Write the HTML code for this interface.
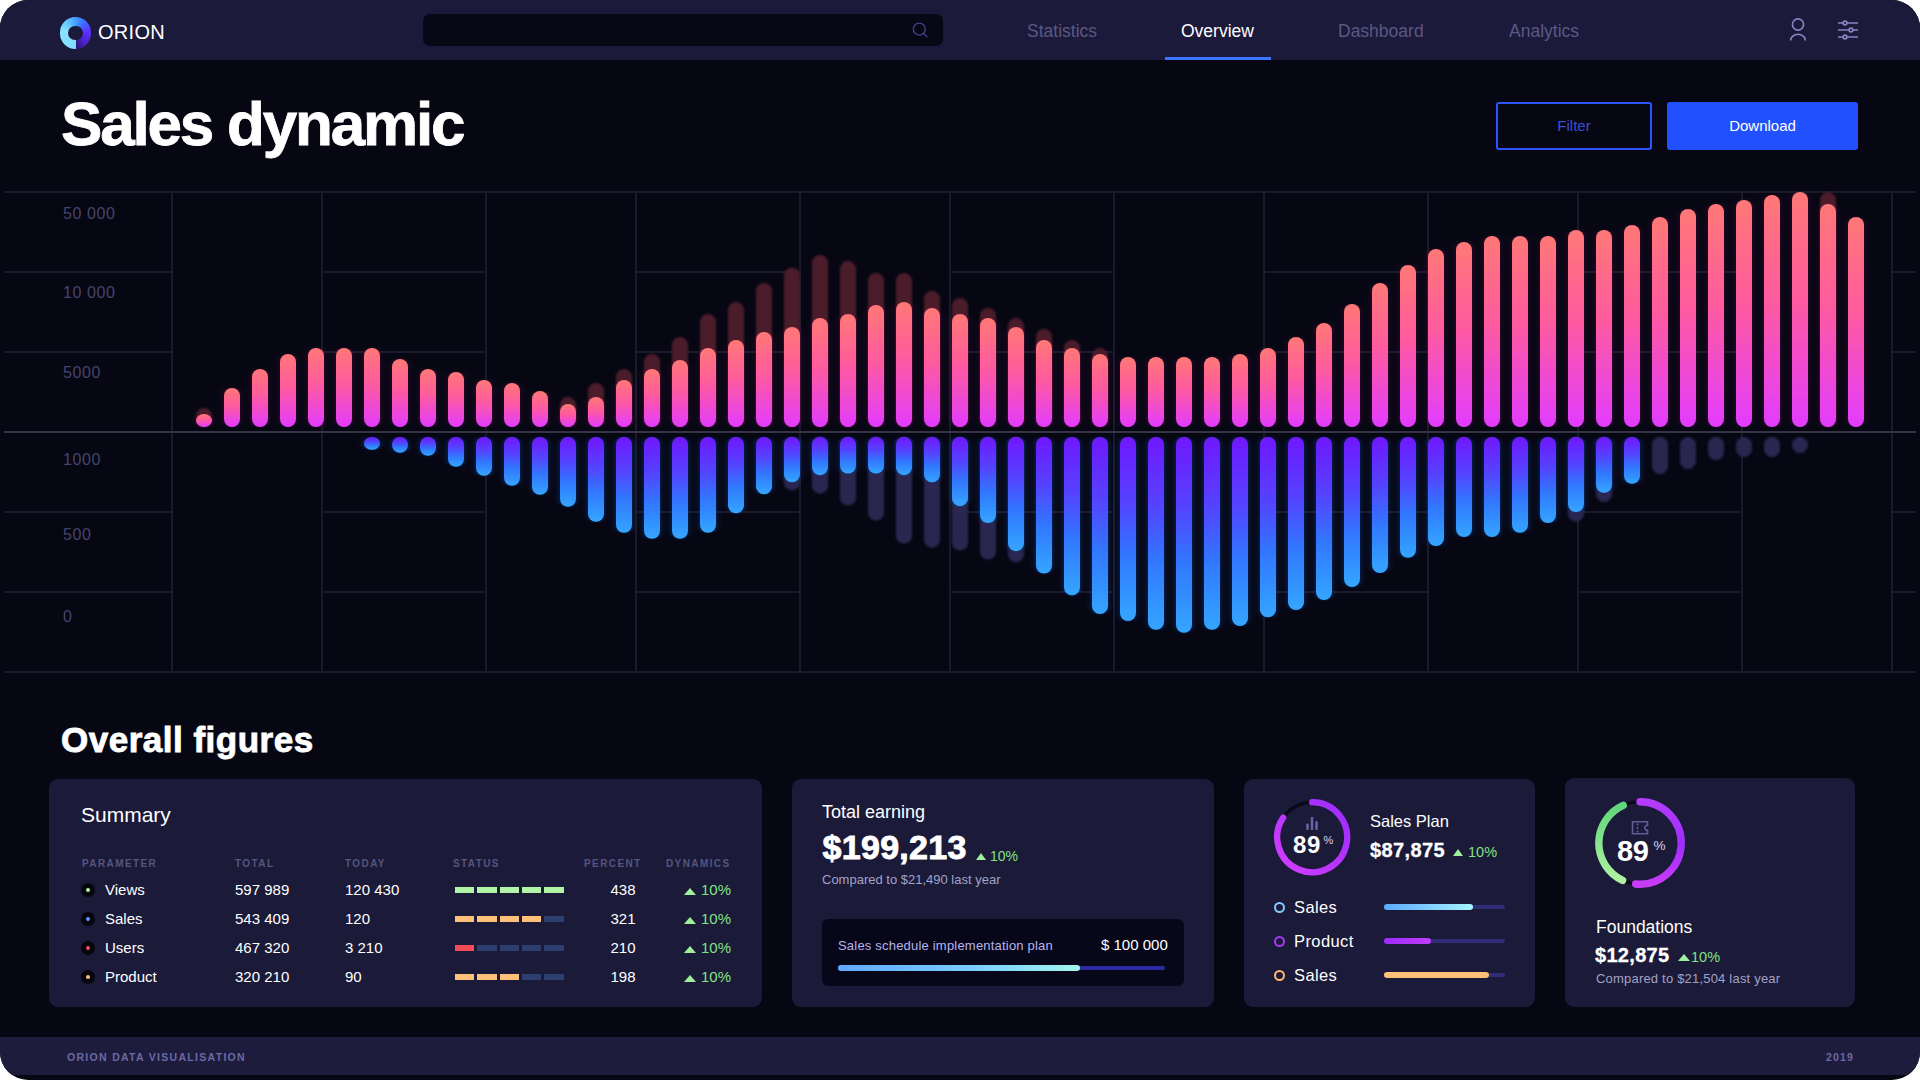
<!DOCTYPE html>
<html><head><meta charset="utf-8"><title>Orion - Sales dynamic</title>
<style>
*{box-sizing:border-box;margin:0;padding:0}
html,body{width:1920px;height:1080px;overflow:hidden;background:#ffffff}
body{font-family:"Liberation Sans",Arial,sans-serif;color:#fff;position:relative}
.frame{position:absolute;left:0;top:0;width:1920px;height:1080px;border-radius:28px;overflow:hidden;background:#070714}
.abs{position:absolute;white-space:nowrap}
.nav{position:absolute;left:0;top:0;width:1920px;height:60px;background:#1c1a3a}
.logo{position:absolute;left:59.6px;top:17px;width:31.6px;height:31.6px;border-radius:50%;
 background:conic-gradient(from 180deg,#80dcff 0deg,#8ae4ff 100deg,#55b6ff 160deg,#3580ff 205deg,#5a34ff 260deg,#4a22c8 320deg,#2a1670 359deg)}
.logo:after{content:"";position:absolute;left:8.6px;top:8.6px;width:14.4px;height:14.4px;border-radius:50%;background:#1c1a3a}
.brand{left:98px;top:21px;font-size:20px;letter-spacing:0.3px;color:#fff}
.search{position:absolute;left:423px;top:14px;width:520px;height:32px;border-radius:7px;background:#080715}
.navi{top:21px;font-size:17.5px;color:#5a5883}
.navi.on{color:#fff}
.uline{position:absolute;left:1165px;top:57px;width:106px;height:3px;background:#3a78ff}
h1{position:absolute;left:61px;top:88px;font-size:62px;font-weight:700;letter-spacing:-2.2px;-webkit-text-stroke:0.8px #fff;color:#fff;white-space:nowrap}
.btn{position:absolute;top:102px;height:48px;border-radius:3px;font-size:15px;display:flex;align-items:center;justify-content:center;padding-bottom:2px}
.filter{left:1496px;width:156px;border:2px solid #2a55ff;color:#3c4ed0;background:transparent}
.dl{left:1667px;width:191px;background:#2150ff;color:#fff}
.chart{position:absolute;left:0;top:180px}
.yl{font-family:"Liberation Sans",Arial,sans-serif;font-size:16px;letter-spacing:0.6px;fill:#45446a}
h2{position:absolute;left:61px;top:719.5px;font-size:35px;letter-spacing:0.5px;-webkit-text-stroke:0.9px #fff;font-weight:700;color:#fff;white-space:nowrap}
.card{position:absolute;top:779px;height:228px;border-radius:9px;background:#1b1a39}
.footer{position:absolute;left:0;top:1037px;width:1920px;height:38px;background:#1e1c3d}
.ft{top:1051px;font-size:10.5px;font-weight:700;letter-spacing:1.3px;color:#6b69a3}
.th{font-size:10px;font-weight:700;letter-spacing:1.4px;color:#56557f;top:858px}
.td{font-size:15px;color:#fff}
.dot{position:absolute;width:14px;height:14px;border-radius:50%;background:#07060f}
.dot i{position:absolute;left:5px;top:5px;width:4px;height:4px;border-radius:50%}
.seg{position:absolute;height:6px;width:19.5px}
.tri{position:absolute;width:0;height:0;border-left:6px solid transparent;border-right:6px solid transparent;border-bottom:7px solid #9ff09a}
.grn{color:#82e283}
.sub{color:#a3a2c6;font-size:13px}
</style></head>
<body>
<div class="frame">
 <div class="nav"></div>
 <div class="logo"></div>
 <div class="abs brand">ORION</div>
 <div class="search"></div>
 <svg class="abs" style="left:911px;top:22px" width="18" height="18" viewBox="0 0 18 18"><circle cx="8.3" cy="7.1" r="6" fill="none" stroke="#433e8c" stroke-width="1.4"/><line x1="12.6" y1="11.4" x2="16" y2="14.8" stroke="#433e8c" stroke-width="1.4" stroke-linecap="round"/></svg>
 <div class="abs navi" style="left:1027px">Statistics</div>
 <div class="abs navi on" style="left:1181px">Overview</div>
 <div class="abs navi" style="left:1338px">Dashboard</div>
 <div class="abs navi" style="left:1509px">Analytics</div>
 <div class="uline"></div>
 <svg class="abs" style="left:1786px;top:16px" width="24" height="26" viewBox="0 0 24 26"><circle cx="12" cy="8.5" r="5.6" fill="none" stroke="#8785c4" stroke-width="1.6"/><path d="M4.6 24.5 A7.4 6.2 0 0 1 19.4 24.5" fill="none" stroke="#8785c4" stroke-width="1.6"/></svg>
 <svg class="abs" style="left:1836px;top:16px" width="24" height="26" viewBox="0 0 24 26"><g stroke="#8785c4" stroke-width="1.6" fill="none"><line x1="2" y1="7" x2="22" y2="7"/><line x1="2" y1="14" x2="22" y2="14"/><line x1="2" y1="21" x2="22" y2="21"/><circle cx="9" cy="7" r="1.9" fill="#1c1a3a"/><circle cx="15" cy="14" r="1.9" fill="#1c1a3a"/><circle cx="9" cy="21" r="1.9" fill="#1c1a3a"/></g></svg>

 <h1>Sales dynamic</h1>
 <div class="btn filter">Filter</div>
 <div class="btn dl">Download</div>

<svg class="chart" width="1920" height="510" viewBox="0 180 1920 510">
<defs>
<linearGradient id="gp" x1="0" y1="0" x2="0" y2="1"><stop offset="0" stop-color="#ff7876"/><stop offset="0.45" stop-color="#ff5b9e"/><stop offset="1" stop-color="#e23cff"/></linearGradient>
<linearGradient id="gb" x1="0" y1="0" x2="0" y2="1"><stop offset="0" stop-color="#7018ff"/><stop offset="0.35" stop-color="#5542ff"/><stop offset="0.65" stop-color="#3078ff"/><stop offset="1" stop-color="#35a6ff"/></linearGradient>
<filter id="gwp" x="-60%" y="-10%" width="220%" height="120%"><feGaussianBlur in="SourceAlpha" stdDeviation="3 1.2"/><feColorMatrix type="matrix" values="0 0 0 0 0.3  0 0 0 0 0  0 0 0 0 0.12  0 0 0 0.35 0"/><feMerge><feMergeNode/><feMergeNode in="SourceGraphic"/></feMerge></filter>
<filter id="gwb" x="-60%" y="-10%" width="220%" height="120%"><feGaussianBlur in="SourceAlpha" stdDeviation="3 1.2"/><feColorMatrix type="matrix" values="0 0 0 0 0  0 0 0 0 0.07  0 0 0 0 0.45  0 0 0 0.55 0"/><feMerge><feMergeNode/><feMergeNode in="SourceGraphic"/></feMerge></filter>
<filter id="bl" x="-50%" y="-20%" width="200%" height="140%"><feGaussianBlur stdDeviation="0.8"/></filter>
</defs>
<rect x="4" y="191" width="1912" height="2" fill="#1b1a2c"/>
<rect x="4" y="671" width="1912" height="2" fill="#1b1a2c"/>
<rect x="171" y="191" width="2" height="482" fill="#1b1a2c"/>
<rect x="321" y="191" width="2" height="482" fill="#1b1a2c"/>
<rect x="485" y="191" width="2" height="482" fill="#1b1a2c"/>
<rect x="635" y="191" width="2" height="482" fill="#1b1a2c"/>
<rect x="799" y="191" width="2" height="482" fill="#1b1a2c"/>
<rect x="949" y="191" width="2" height="482" fill="#1b1a2c"/>
<rect x="1113" y="191" width="2" height="482" fill="#1b1a2c"/>
<rect x="1263" y="191" width="2" height="482" fill="#1b1a2c"/>
<rect x="1427" y="191" width="2" height="482" fill="#1b1a2c"/>
<rect x="1577" y="191" width="2" height="482" fill="#1b1a2c"/>
<rect x="1741" y="191" width="2" height="482" fill="#1b1a2c"/>
<rect x="1891" y="191" width="2" height="482" fill="#1b1a2c"/>
<rect x="4" y="271" width="168" height="2" fill="#1b1a2c"/>
<rect x="4" y="351" width="168" height="2" fill="#1b1a2c"/>
<rect x="4" y="511" width="168" height="2" fill="#1b1a2c"/>
<rect x="4" y="591" width="168" height="2" fill="#1b1a2c"/>
<rect x="322" y="271" width="164" height="2" fill="#1b1a2c"/>
<rect x="322" y="351" width="164" height="2" fill="#1b1a2c"/>
<rect x="322" y="511" width="164" height="2" fill="#1b1a2c"/>
<rect x="322" y="591" width="164" height="2" fill="#1b1a2c"/>
<rect x="636" y="271" width="164" height="2" fill="#1b1a2c"/>
<rect x="636" y="351" width="164" height="2" fill="#1b1a2c"/>
<rect x="636" y="511" width="164" height="2" fill="#1b1a2c"/>
<rect x="636" y="591" width="164" height="2" fill="#1b1a2c"/>
<rect x="950" y="271" width="164" height="2" fill="#1b1a2c"/>
<rect x="950" y="351" width="164" height="2" fill="#1b1a2c"/>
<rect x="950" y="511" width="164" height="2" fill="#1b1a2c"/>
<rect x="950" y="591" width="164" height="2" fill="#1b1a2c"/>
<rect x="1264" y="271" width="164" height="2" fill="#1b1a2c"/>
<rect x="1264" y="351" width="164" height="2" fill="#1b1a2c"/>
<rect x="1264" y="511" width="164" height="2" fill="#1b1a2c"/>
<rect x="1264" y="591" width="164" height="2" fill="#1b1a2c"/>
<rect x="1578" y="271" width="164" height="2" fill="#1b1a2c"/>
<rect x="1578" y="351" width="164" height="2" fill="#1b1a2c"/>
<rect x="1578" y="511" width="164" height="2" fill="#1b1a2c"/>
<rect x="1578" y="591" width="164" height="2" fill="#1b1a2c"/>
<rect x="1892" y="271" width="24" height="2" fill="#1b1a2c"/>
<rect x="1892" y="351" width="24" height="2" fill="#1b1a2c"/>
<rect x="1892" y="511" width="24" height="2" fill="#1b1a2c"/>
<rect x="1892" y="591" width="24" height="2" fill="#1b1a2c"/>
<rect x="4" y="431" width="1912" height="2" fill="#353445"/>
<text x="63" y="219" class="yl">50 000</text>
<text x="63" y="298" class="yl">10 000</text>
<text x="63" y="377.5" class="yl">5000</text>
<text x="63" y="464.5" class="yl">1000</text>
<text x="63" y="539.5" class="yl">500</text>
<text x="63" y="622" class="yl">0</text>
<rect x="196.0" y="408" width="16" height="19" rx="8" fill="#4b1c2c" filter="url(#bl)"/>
<rect x="560.0" y="397" width="16" height="30" rx="8" fill="#4b1c2c" filter="url(#bl)"/>
<rect x="588.0" y="383" width="16" height="44" rx="8" fill="#4b1c2c" filter="url(#bl)"/>
<rect x="616.0" y="369" width="16" height="58" rx="8" fill="#4b1c2c" filter="url(#bl)"/>
<rect x="644.0" y="354" width="16" height="73" rx="8" fill="#4b1c2c" filter="url(#bl)"/>
<rect x="672.0" y="337" width="16" height="90" rx="8" fill="#4b1c2c" filter="url(#bl)"/>
<rect x="700.0" y="314" width="16" height="113" rx="8" fill="#4b1c2c" filter="url(#bl)"/>
<rect x="728.0" y="302" width="16" height="125" rx="8" fill="#4b1c2c" filter="url(#bl)"/>
<rect x="756.0" y="283" width="16" height="144" rx="8" fill="#4b1c2c" filter="url(#bl)"/>
<rect x="784.0" y="267.5" width="16" height="159.5" rx="8" fill="#4b1c2c" filter="url(#bl)"/>
<rect x="812.0" y="255" width="16" height="172" rx="8" fill="#4b1c2c" filter="url(#bl)"/>
<rect x="840.0" y="261" width="16" height="166" rx="8" fill="#4b1c2c" filter="url(#bl)"/>
<rect x="868.0" y="273" width="16" height="154" rx="8" fill="#4b1c2c" filter="url(#bl)"/>
<rect x="896.0" y="273" width="16" height="154" rx="8" fill="#4b1c2c" filter="url(#bl)"/>
<rect x="924.0" y="291" width="16" height="136" rx="8" fill="#4b1c2c" filter="url(#bl)"/>
<rect x="952.0" y="298" width="16" height="129" rx="8" fill="#4b1c2c" filter="url(#bl)"/>
<rect x="980.0" y="308" width="16" height="119" rx="8" fill="#4b1c2c" filter="url(#bl)"/>
<rect x="1008.0" y="318" width="16" height="109" rx="8" fill="#4b1c2c" filter="url(#bl)"/>
<rect x="1036.0" y="329" width="16" height="98" rx="8" fill="#4b1c2c" filter="url(#bl)"/>
<rect x="1064.0" y="340" width="16" height="87" rx="8" fill="#4b1c2c" filter="url(#bl)"/>
<rect x="1092.0" y="348" width="16" height="79" rx="8" fill="#4b1c2c" filter="url(#bl)"/>
<rect x="1820.0" y="192" width="16" height="235" rx="8" fill="#4b1c2c" filter="url(#bl)"/>
<rect x="784.0" y="437" width="16" height="53.39999999999998" rx="8" fill="#2c2550" filter="url(#bl)"/>
<rect x="812.0" y="437" width="16" height="56.5" rx="8" fill="#2c2550" filter="url(#bl)"/>
<rect x="840.0" y="437" width="16" height="68.39999999999998" rx="8" fill="#2c2550" filter="url(#bl)"/>
<rect x="868.0" y="437" width="16" height="83.60000000000002" rx="8" fill="#2c2550" filter="url(#bl)"/>
<rect x="896.0" y="437" width="16" height="106.5" rx="8" fill="#2c2550" filter="url(#bl)"/>
<rect x="924.0" y="437" width="16" height="110.70000000000005" rx="8" fill="#2c2550" filter="url(#bl)"/>
<rect x="952.0" y="437" width="16" height="113.39999999999998" rx="8" fill="#2c2550" filter="url(#bl)"/>
<rect x="980.0" y="437" width="16" height="122.60000000000002" rx="8" fill="#2c2550" filter="url(#bl)"/>
<rect x="1008.0" y="437" width="16" height="125.29999999999995" rx="8" fill="#2c2550" filter="url(#bl)"/>
<rect x="1568.0" y="437" width="16" height="84.70000000000005" rx="8" fill="#2c2550" filter="url(#bl)"/>
<rect x="1596.0" y="437" width="16" height="65" rx="8" fill="#2c2550" filter="url(#bl)"/>
<rect x="1652.0" y="437" width="16" height="37" rx="8" fill="#2c2550" filter="url(#bl)"/>
<rect x="1680.0" y="437" width="16" height="32" rx="8" fill="#2c2550" filter="url(#bl)"/>
<rect x="1708.0" y="437" width="16" height="23" rx="8" fill="#2c2550" filter="url(#bl)"/>
<rect x="1736.0" y="437" width="16" height="20" rx="8" fill="#2c2550" filter="url(#bl)"/>
<rect x="1764.0" y="437" width="16" height="20" rx="8" fill="#2c2550" filter="url(#bl)"/>
<rect x="1792.0" y="437" width="16" height="16" rx="8" fill="#2c2550" filter="url(#bl)"/>
<g filter="url(#gwp)">
<rect x="196.0" y="414" width="16" height="13" rx="8" ry="6.5" fill="url(#gp)"/>
<rect x="224.0" y="388" width="16" height="39" rx="8" ry="8" fill="url(#gp)"/>
<rect x="252.0" y="369" width="16" height="58" rx="8" ry="8" fill="url(#gp)"/>
<rect x="280.0" y="354" width="16" height="73" rx="8" ry="8" fill="url(#gp)"/>
<rect x="308.0" y="348" width="16" height="79" rx="8" ry="8" fill="url(#gp)"/>
<rect x="336.0" y="348" width="16" height="79" rx="8" ry="8" fill="url(#gp)"/>
<rect x="364.0" y="348" width="16" height="79" rx="8" ry="8" fill="url(#gp)"/>
<rect x="392.0" y="359" width="16" height="68" rx="8" ry="8" fill="url(#gp)"/>
<rect x="420.0" y="369" width="16" height="58" rx="8" ry="8" fill="url(#gp)"/>
<rect x="448.0" y="372" width="16" height="55" rx="8" ry="8" fill="url(#gp)"/>
<rect x="476.0" y="380" width="16" height="47" rx="8" ry="8" fill="url(#gp)"/>
<rect x="504.0" y="383" width="16" height="44" rx="8" ry="8" fill="url(#gp)"/>
<rect x="532.0" y="391" width="16" height="36" rx="8" ry="8" fill="url(#gp)"/>
<rect x="560.0" y="404" width="16" height="23" rx="8" ry="8" fill="url(#gp)"/>
<rect x="588.0" y="397" width="16" height="30" rx="8" ry="8" fill="url(#gp)"/>
<rect x="616.0" y="380" width="16" height="47" rx="8" ry="8" fill="url(#gp)"/>
<rect x="644.0" y="369" width="16" height="58" rx="8" ry="8" fill="url(#gp)"/>
<rect x="672.0" y="360" width="16" height="67" rx="8" ry="8" fill="url(#gp)"/>
<rect x="700.0" y="348" width="16" height="79" rx="8" ry="8" fill="url(#gp)"/>
<rect x="728.0" y="340" width="16" height="87" rx="8" ry="8" fill="url(#gp)"/>
<rect x="756.0" y="332" width="16" height="95" rx="8" ry="8" fill="url(#gp)"/>
<rect x="784.0" y="327" width="16" height="100" rx="8" ry="8" fill="url(#gp)"/>
<rect x="812.0" y="318" width="16" height="109" rx="8" ry="8" fill="url(#gp)"/>
<rect x="840.0" y="314" width="16" height="113" rx="8" ry="8" fill="url(#gp)"/>
<rect x="868.0" y="305" width="16" height="122" rx="8" ry="8" fill="url(#gp)"/>
<rect x="896.0" y="302" width="16" height="125" rx="8" ry="8" fill="url(#gp)"/>
<rect x="924.0" y="308" width="16" height="119" rx="8" ry="8" fill="url(#gp)"/>
<rect x="952.0" y="314" width="16" height="113" rx="8" ry="8" fill="url(#gp)"/>
<rect x="980.0" y="318" width="16" height="109" rx="8" ry="8" fill="url(#gp)"/>
<rect x="1008.0" y="327" width="16" height="100" rx="8" ry="8" fill="url(#gp)"/>
<rect x="1036.0" y="340" width="16" height="87" rx="8" ry="8" fill="url(#gp)"/>
<rect x="1064.0" y="348" width="16" height="79" rx="8" ry="8" fill="url(#gp)"/>
<rect x="1092.0" y="354" width="16" height="73" rx="8" ry="8" fill="url(#gp)"/>
<rect x="1120.0" y="357" width="16" height="70" rx="8" ry="8" fill="url(#gp)"/>
<rect x="1148.0" y="357" width="16" height="70" rx="8" ry="8" fill="url(#gp)"/>
<rect x="1176.0" y="357" width="16" height="70" rx="8" ry="8" fill="url(#gp)"/>
<rect x="1204.0" y="357" width="16" height="70" rx="8" ry="8" fill="url(#gp)"/>
<rect x="1232.0" y="354" width="16" height="73" rx="8" ry="8" fill="url(#gp)"/>
<rect x="1260.0" y="348" width="16" height="79" rx="8" ry="8" fill="url(#gp)"/>
<rect x="1288.0" y="337" width="16" height="90" rx="8" ry="8" fill="url(#gp)"/>
<rect x="1316.0" y="323" width="16" height="104" rx="8" ry="8" fill="url(#gp)"/>
<rect x="1344.0" y="304" width="16" height="123" rx="8" ry="8" fill="url(#gp)"/>
<rect x="1372.0" y="283" width="16" height="144" rx="8" ry="8" fill="url(#gp)"/>
<rect x="1400.0" y="265" width="16" height="162" rx="8" ry="8" fill="url(#gp)"/>
<rect x="1428.0" y="249" width="16" height="178" rx="8" ry="8" fill="url(#gp)"/>
<rect x="1456.0" y="242" width="16" height="185" rx="8" ry="8" fill="url(#gp)"/>
<rect x="1484.0" y="236" width="16" height="191" rx="8" ry="8" fill="url(#gp)"/>
<rect x="1512.0" y="236" width="16" height="191" rx="8" ry="8" fill="url(#gp)"/>
<rect x="1540.0" y="236" width="16" height="191" rx="8" ry="8" fill="url(#gp)"/>
<rect x="1568.0" y="230" width="16" height="197" rx="8" ry="8" fill="url(#gp)"/>
<rect x="1596.0" y="230" width="16" height="197" rx="8" ry="8" fill="url(#gp)"/>
<rect x="1624.0" y="225" width="16" height="202" rx="8" ry="8" fill="url(#gp)"/>
<rect x="1652.0" y="217" width="16" height="210" rx="8" ry="8" fill="url(#gp)"/>
<rect x="1680.0" y="209" width="16" height="218" rx="8" ry="8" fill="url(#gp)"/>
<rect x="1708.0" y="204" width="16" height="223" rx="8" ry="8" fill="url(#gp)"/>
<rect x="1736.0" y="200" width="16" height="227" rx="8" ry="8" fill="url(#gp)"/>
<rect x="1764.0" y="195" width="16" height="232" rx="8" ry="8" fill="url(#gp)"/>
<rect x="1792.0" y="192" width="16" height="235" rx="8" ry="8" fill="url(#gp)"/>
<rect x="1820.0" y="204" width="16" height="223" rx="8" ry="8" fill="url(#gp)"/>
<rect x="1848.0" y="217" width="16" height="210" rx="8" ry="8" fill="url(#gp)"/>
</g>
<g filter="url(#gwb)">
<rect x="364.0" y="437" width="16" height="12.800000000000011" rx="8" ry="6.400000000000006" fill="url(#gb)"/>
<rect x="392.0" y="437" width="16" height="15.800000000000011" rx="8" ry="7.900000000000006" fill="url(#gb)"/>
<rect x="420.0" y="437" width="16" height="18.80000000000001" rx="8" ry="8" fill="url(#gb)"/>
<rect x="448.0" y="437" width="16" height="29.80000000000001" rx="8" ry="8" fill="url(#gb)"/>
<rect x="476.0" y="437" width="16" height="38.80000000000001" rx="8" ry="8" fill="url(#gb)"/>
<rect x="504.0" y="437" width="16" height="48.80000000000001" rx="8" ry="8" fill="url(#gb)"/>
<rect x="532.0" y="437" width="16" height="57.80000000000001" rx="8" ry="8" fill="url(#gb)"/>
<rect x="560.0" y="437" width="16" height="69.80000000000001" rx="8" ry="8" fill="url(#gb)"/>
<rect x="588.0" y="437" width="16" height="84.79999999999995" rx="8" ry="8" fill="url(#gb)"/>
<rect x="616.0" y="437" width="16" height="95.79999999999995" rx="8" ry="8" fill="url(#gb)"/>
<rect x="644.0" y="437" width="16" height="101.79999999999995" rx="8" ry="8" fill="url(#gb)"/>
<rect x="672.0" y="437" width="16" height="101.79999999999995" rx="8" ry="8" fill="url(#gb)"/>
<rect x="700.0" y="437" width="16" height="95.79999999999995" rx="8" ry="8" fill="url(#gb)"/>
<rect x="728.0" y="437" width="16" height="76.29999999999995" rx="8" ry="8" fill="url(#gb)"/>
<rect x="756.0" y="437" width="16" height="57.30000000000001" rx="8" ry="8" fill="url(#gb)"/>
<rect x="784.0" y="437" width="16" height="45.30000000000001" rx="8" ry="8" fill="url(#gb)"/>
<rect x="812.0" y="437" width="16" height="38.19999999999999" rx="8" ry="8" fill="url(#gb)"/>
<rect x="840.0" y="437" width="16" height="36.5" rx="8" ry="8" fill="url(#gb)"/>
<rect x="868.0" y="437" width="16" height="36.5" rx="8" ry="8" fill="url(#gb)"/>
<rect x="896.0" y="437" width="16" height="38.19999999999999" rx="8" ry="8" fill="url(#gb)"/>
<rect x="924.0" y="437" width="16" height="45.30000000000001" rx="8" ry="8" fill="url(#gb)"/>
<rect x="952.0" y="437" width="16" height="69.19999999999999" rx="8" ry="8" fill="url(#gb)"/>
<rect x="980.0" y="437" width="16" height="86.09999999999991" rx="8" ry="8" fill="url(#gb)"/>
<rect x="1008.0" y="437" width="16" height="114.19999999999993" rx="8" ry="8" fill="url(#gb)"/>
<rect x="1036.0" y="437" width="16" height="136.5" rx="8" ry="8" fill="url(#gb)"/>
<rect x="1064.0" y="437" width="16" height="158.39999999999998" rx="8" ry="8" fill="url(#gb)"/>
<rect x="1092.0" y="437" width="16" height="177.0999999999999" rx="8" ry="8" fill="url(#gb)"/>
<rect x="1120.0" y="437" width="16" height="184.0" rx="8" ry="8" fill="url(#gb)"/>
<rect x="1148.0" y="437" width="16" height="192.79999999999995" rx="8" ry="8" fill="url(#gb)"/>
<rect x="1176.0" y="437" width="16" height="195.79999999999995" rx="8" ry="8" fill="url(#gb)"/>
<rect x="1204.0" y="437" width="16" height="192.79999999999995" rx="8" ry="8" fill="url(#gb)"/>
<rect x="1232.0" y="437" width="16" height="189.0" rx="8" ry="8" fill="url(#gb)"/>
<rect x="1260.0" y="437" width="16" height="180.29999999999995" rx="8" ry="8" fill="url(#gb)"/>
<rect x="1288.0" y="437" width="16" height="173.0" rx="8" ry="8" fill="url(#gb)"/>
<rect x="1316.0" y="437" width="16" height="163.0" rx="8" ry="8" fill="url(#gb)"/>
<rect x="1344.0" y="437" width="16" height="150.04999999999995" rx="8" ry="8" fill="url(#gb)"/>
<rect x="1372.0" y="437" width="16" height="136.0999999999999" rx="8" ry="8" fill="url(#gb)"/>
<rect x="1400.0" y="437" width="16" height="120.79999999999995" rx="8" ry="8" fill="url(#gb)"/>
<rect x="1428.0" y="437" width="16" height="109.0" rx="8" ry="8" fill="url(#gb)"/>
<rect x="1456.0" y="437" width="16" height="100.04999999999995" rx="8" ry="8" fill="url(#gb)"/>
<rect x="1484.0" y="437" width="16" height="100.04999999999995" rx="8" ry="8" fill="url(#gb)"/>
<rect x="1512.0" y="437" width="16" height="95.79999999999995" rx="8" ry="8" fill="url(#gb)"/>
<rect x="1540.0" y="437" width="16" height="86.09999999999991" rx="8" ry="8" fill="url(#gb)"/>
<rect x="1568.0" y="437" width="16" height="75.04999999999995" rx="8" ry="8" fill="url(#gb)"/>
<rect x="1596.0" y="437" width="16" height="55.80000000000001" rx="8" ry="8" fill="url(#gb)"/>
<rect x="1624.0" y="437" width="16" height="46.80000000000001" rx="8" ry="8" fill="url(#gb)"/>
</g>
</svg>

 <h2>Overall figures</h2>

 <!-- Summary card -->
 <div class="card" style="left:49px;width:713px"></div>
 <div class="abs" style="left:81px;top:803px;font-size:21px;color:#fff">Summary</div>
 <div class="abs th" style="left:82px">PARAMETER</div>
 <div class="abs th" style="left:235px">TOTAL</div>
 <div class="abs th" style="left:345px">TODAY</div>
 <div class="abs th" style="left:453px">STATUS</div>
 <div class="abs th" style="left:584px">PERCENT</div>
 <div class="abs th" style="left:666px">DYNAMICS</div>
 <div class="dot" style="left:81px;top:883px"><i style="background:#a6f59c"></i></div>
 <div class="abs td" style="left:105px;top:881px">Views</div>
 <div class="abs td" style="left:235px;top:881px">597 989</div>
 <div class="abs td" style="left:345px;top:881px">120 430</div>
 <div class="seg" style="left:454.7px;top:887px;background:#b2f5a6"></div>
 <div class="seg" style="left:477px;top:887px;background:#b2f5a6"></div>
 <div class="seg" style="left:499.5px;top:887px;background:#b2f5a6"></div>
 <div class="seg" style="left:521.8px;top:887px;background:#b2f5a6"></div>
 <div class="seg" style="left:544px;top:887px;background:#b2f5a6"></div>
 <div class="abs td" style="right:1284.5px;top:881px">438</div>
 <div class="tri" style="left:684px;top:888px"></div>
 <div class="abs td grn" style="left:701px;top:881px">10%</div>
 <div class="dot" style="left:81px;top:912px"><i style="background:#5b9cff"></i></div>
 <div class="abs td" style="left:105px;top:910px">Sales</div>
 <div class="abs td" style="left:235px;top:910px">543 409</div>
 <div class="abs td" style="left:345px;top:910px">120</div>
 <div class="seg" style="left:454.7px;top:916px;background:#ffc177"></div>
 <div class="seg" style="left:477px;top:916px;background:#ffc177"></div>
 <div class="seg" style="left:499.5px;top:916px;background:#ffc177"></div>
 <div class="seg" style="left:521.8px;top:916px;background:#ffc177"></div>
 <div class="seg" style="left:544px;top:916px;background:#2c3f6f"></div>
 <div class="abs td" style="right:1284.5px;top:910px">321</div>
 <div class="tri" style="left:684px;top:917px"></div>
 <div class="abs td grn" style="left:701px;top:910px">10%</div>
 <div class="dot" style="left:81px;top:941px"><i style="background:#f0505c"></i></div>
 <div class="abs td" style="left:105px;top:939px">Users</div>
 <div class="abs td" style="left:235px;top:939px">467 320</div>
 <div class="abs td" style="left:345px;top:939px">3 210</div>
 <div class="seg" style="left:454.7px;top:945px;background:#f04d58"></div>
 <div class="seg" style="left:477px;top:945px;background:#2c3f6f"></div>
 <div class="seg" style="left:499.5px;top:945px;background:#2c3f6f"></div>
 <div class="seg" style="left:521.8px;top:945px;background:#2c3f6f"></div>
 <div class="seg" style="left:544px;top:945px;background:#2c3f6f"></div>
 <div class="abs td" style="right:1284.5px;top:939px">210</div>
 <div class="tri" style="left:684px;top:946px"></div>
 <div class="abs td grn" style="left:701px;top:939px">10%</div>
 <div class="dot" style="left:81px;top:970px"><i style="background:#ffc27a"></i></div>
 <div class="abs td" style="left:105px;top:968px">Product</div>
 <div class="abs td" style="left:235px;top:968px">320 210</div>
 <div class="abs td" style="left:345px;top:968px">90</div>
 <div class="seg" style="left:454.7px;top:974px;background:#ffc177"></div>
 <div class="seg" style="left:477px;top:974px;background:#ffc177"></div>
 <div class="seg" style="left:499.5px;top:974px;background:#ffc177"></div>
 <div class="seg" style="left:521.8px;top:974px;background:#2c3f6f"></div>
 <div class="seg" style="left:544px;top:974px;background:#2c3f6f"></div>
 <div class="abs td" style="right:1284.5px;top:968px">198</div>
 <div class="tri" style="left:684px;top:975px"></div>
 <div class="abs td grn" style="left:701px;top:968px">10%</div>

 <!-- Total earning -->
 <div class="card" style="left:792px;width:422px"></div>
 <div class="abs" style="left:822px;top:802px;font-size:18px">Total earning</div>
 <div class="abs" style="left:822.5px;top:828px;font-size:34px;font-weight:700;letter-spacing:0.3px;-webkit-text-stroke:0.9px #fff">$199,213</div>
 <div class="tri" style="left:976.2px;top:853.4px;border-left-width:5.8px;border-right-width:5.8px;border-bottom-width:7.8px"></div>
 <div class="abs grn" style="left:990px;top:848px;font-size:14px">10%</div>
 <div class="abs sub" style="left:822px;top:872px">Compared to $21,490 last year</div>
 <div class="abs" style="left:822px;top:919px;width:362px;height:67px;border-radius:6px;background:#08071a"></div>
 <div class="abs" style="left:838px;top:938px;font-size:13px;letter-spacing:0.2px;color:#b6b4f0">Sales schedule implementation plan</div>
 <div class="abs" style="left:1101px;top:936px;font-size:15px;color:#fff">$ 100 000</div>
 <div class="abs" style="left:838px;top:966px;width:327px;height:4px;border-radius:2px;background:#2b2aa0"></div>
 <div class="abs" style="left:838px;top:965px;width:242px;height:6px;border-radius:3px;background:linear-gradient(90deg,#62a8ff,#78ccff 55%,#a2f6ec)"></div>

 <!-- Sales plan -->
 <div class="card" style="left:1244px;width:291px"></div>
 <svg class="abs" style="left:1272px;top:797px" width="80" height="80" viewBox="1272 797 80 80">
<defs><linearGradient id="rp" x1="1" y1="0" x2="0" y2="1"><stop offset="0" stop-color="#9b2cff"/><stop offset="1" stop-color="#d23eff"/></linearGradient></defs>
<circle cx="1312.2" cy="837.2" r="35" fill="none" stroke="#0a0918" stroke-width="3.5"/>
<path d="M1312.20 802.20 A35 35 0 1 1 1283.18 817.63" fill="none" stroke="url(#rp)" stroke-width="6.3" stroke-linecap="round"/>
<g fill="#6664a3"><rect x="1306.2" y="823.7" width="2.5" height="6.2"/><rect x="1310.75" y="817" width="2.5" height="12.9"/><rect x="1315.3" y="821.2" width="2.5" height="8.7"/></g>
</svg>
 <div class="abs" style="left:1293px;top:831px;font-size:24px;font-weight:700;letter-spacing:0.6px">89</div>
 <div class="abs" style="left:1323.5px;top:834px;font-size:11px;color:#d8d6f0">%</div>
 <div class="abs" style="left:1370px;top:812px;font-size:16.5px">Sales Plan</div>
 <div class="abs" style="left:1370px;top:839px;font-size:20px;font-weight:700;letter-spacing:0.4px;-webkit-text-stroke:0.3px #fff">$87,875</div>
 <div class="tri" style="left:1453px;top:849px;border-left-width:5.9px;border-right-width:5.9px;border-bottom-width:7.8px"></div>
 <div class="abs grn" style="left:1468px;top:844px;font-size:14.5px">10%</div>
 <div class="abs" style="left:1274px;top:901.5px;width:11px;height:11px;border-radius:50%;border:2.4px solid #84caff"></div>
 <div class="abs" style="left:1294px;top:898px;font-size:16.5px;letter-spacing:0.4px">Sales</div>
 <div class="abs" style="left:1384px;top:905px;width:121px;height:4px;border-radius:2px;background:#302d76"></div>
 <div class="abs" style="left:1384px;top:904px;width:89px;height:6px;border-radius:3px;background:linear-gradient(90deg,#5aaaff,#a6f4ff)"></div>
 <div class="abs" style="left:1274px;top:935.5px;width:11px;height:11px;border-radius:50%;border:2.4px solid #a73af2"></div>
 <div class="abs" style="left:1294px;top:932px;font-size:16.5px;letter-spacing:0.4px">Product</div>
 <div class="abs" style="left:1384px;top:939px;width:121px;height:4px;border-radius:2px;background:#302d76"></div>
 <div class="abs" style="left:1384px;top:938px;width:47px;height:6px;border-radius:3px;background:linear-gradient(90deg,#9a2cff,#c23cff)"></div>
 <div class="abs" style="left:1274px;top:969.5px;width:11px;height:11px;border-radius:50%;border:2.4px solid #ffb870"></div>
 <div class="abs" style="left:1294px;top:966px;font-size:16.5px;letter-spacing:0.4px">Sales</div>
 <div class="abs" style="left:1384px;top:973px;width:121px;height:4px;border-radius:2px;background:#302d76"></div>
 <div class="abs" style="left:1384px;top:972px;width:105px;height:6px;border-radius:3px;background:#ffc077"></div>

 <!-- Foundations -->
 <div class="card" style="left:1565px;width:290px;top:778px;height:229px"></div>
 <svg class="abs" style="left:1590px;top:793px" width="100" height="100" viewBox="1590 793 100 100">
<defs><linearGradient id="rg" x1="0" y1="0" x2="0" y2="1"><stop offset="0" stop-color="#5fd67b"/><stop offset="1" stop-color="#b0f2a2"/></linearGradient>
<linearGradient id="rp2" x1="0" y1="0" x2="0" y2="1"><stop offset="0" stop-color="#b43cff"/><stop offset="0.5" stop-color="#a02cff"/><stop offset="1" stop-color="#c83cf8"/></linearGradient></defs>
<circle cx="1640" cy="843" r="41.2" fill="none" stroke="#0a0918" stroke-width="3"/><path d="M1640.00 801.80 A41.2 41.2 0 1 1 1635.69 883.97" fill="none" stroke="url(#rp2)" stroke-width="7.4" stroke-linecap="round"/>
<path d="M1622.59 880.34 A41.2 41.2 0 0 1 1623.24 805.36" fill="none" stroke="url(#rg)" stroke-width="7.4" stroke-linecap="round"/>
<g fill="none" stroke="#5f5d97" stroke-width="1.6"><path d="M1632.5 821.8 H1647.5 V825.2 A2.6 2.6 0 0 0 1647.5 830.4 V833.8 H1632.5 Z"/><line x1="1637.5" y1="823.5" x2="1637.5" y2="825.5"/><line x1="1637.5" y1="827" x2="1637.5" y2="829"/><line x1="1637.5" y1="830.5" x2="1637.5" y2="832.5"/></g>
</svg>
 <div class="abs" style="left:1617px;top:835px;font-size:29px;font-weight:700;letter-spacing:-0.5px">89</div>
 <div class="abs" style="left:1653.5px;top:838px;font-size:13.5px;color:#d8d6f0">%</div>
 <div class="abs" style="left:1596px;top:917px;font-size:17.5px">Foundations</div>
 <div class="abs" style="left:1595px;top:944px;font-size:20px;font-weight:700;letter-spacing:0.3px;-webkit-text-stroke:0.3px #fff">$12,875</div>
 <div class="tri" style="left:1678px;top:954px;border-left-width:6px;border-right-width:6px;border-bottom-width:7.8px"></div>
 <div class="abs grn" style="left:1691px;top:949px;font-size:14.5px">10%</div>
 <div class="abs sub" style="left:1596px;top:971px;letter-spacing:0.2px">Compared to $21,504 last year</div>

 <div class="footer"></div>
 <div class="abs ft" style="left:67px">ORION DATA VISUALISATION</div>
 <div class="abs ft" style="left:1826px;letter-spacing:1.2px">2019</div>
</div>
</body></html>
